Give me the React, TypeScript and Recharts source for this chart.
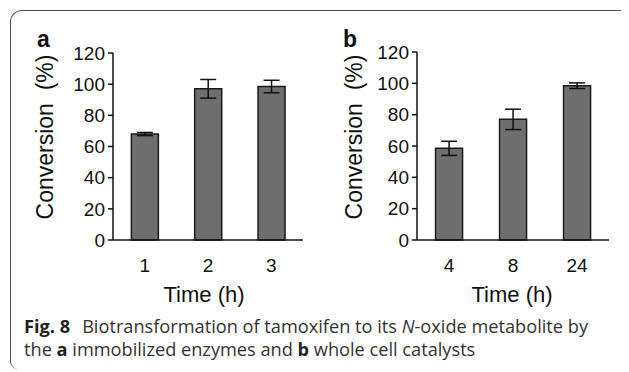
import React from 'react';
import { BarChart, Bar, XAxis, YAxis, ErrorBar } from 'recharts';

// panel a: immobilized enzymes
const timesA = ['1', '2', '3'];
const conversionA = [68, 97, 98.5];
const errorA = [1, 6, 4];

// panel b: whole cell catalysts
const timesB = ['4', '8', '24'];
const conversionB = [58.5, 77, 98.5];
const errorB = [4.5, 6.5, 1.8];

const yTicks = [0, 20, 40, 60, 80, 100, 120];
const edgeTicks = [0, 1, 2, 3];

const axisFont = '"Liberation Sans", Arial, sans-serif';
const captionFont = '"Open Sans", "Noto Sans", sans-serif';

interface PanelProps {
  times: string[];
  values: number[];
  errors: number[];
  width: number;
  height: number;
  margin: { top: number; right: number; left: number; bottom: number };
  yWidth: number;
}

const Panel: React.FC<PanelProps> = ({ times, values, errors, width, height, margin, yWidth }) => {
  const data = times.map((t, i) => ({ time: t, value: values[i], err: errors[i] }));
  const tickStyle = { fontSize: 19, fill: '#111', fontFamily: axisFont };

  return (
    <BarChart width={width} height={height} data={data} margin={margin} barCategoryGap="29%">
      {/* boundary ticks between categories, drawn on a hidden numeric axis */}
      <XAxis
        xAxisId="axis1"
        type="number"
        domain={[0, 3]}
        ticks={edgeTicks}
        tick={false}
        height={1}
        tickSize={6}
        stroke="#111"
        strokeWidth={1.5}
      />
      <XAxis
        xAxisId="axis2"
        dataKey="time"
        height={59}
        axisLine={false}
        tickLine={false}
        tickMargin={12}
        tick={tickStyle}
      />
      <YAxis
        domain={[0, 120]}
        ticks={yTicks}
        width={yWidth}
        tickSize={5}
        tickMargin={3}
        stroke="#111"
        strokeWidth={1.5}
        tick={tickStyle}
        interval={0}
      />
      <Bar
        xAxisId="axis2"
        dataKey="value"
        fill="#6e6e6e"
        stroke="#1a1a1a"
        strokeWidth={1.5}
        isAnimationActive={false}
      >
        <ErrorBar dataKey="err" width={8} stroke="#111" strokeWidth={1.5} />
      </Bar>
    </BarChart>
  );
};

const yTitle = (left: number): React.CSSProperties => ({
  position: 'absolute',
  left,
  top: 137,
  transform: 'translate(-50%, -50%) rotate(-90deg)',
  fontFamily: axisFont,
  fontSize: 23,
  color: '#111',
  whiteSpace: 'pre',
});

const xTitle = (center: number): React.CSSProperties => ({
  position: 'absolute',
  left: center,
  top: 295,
  transform: 'translate(-50%, -50%)',
  fontFamily: axisFont,
  fontSize: 22,
  color: '#111',
  whiteSpace: 'pre',
});

const letter = (left: number): React.CSSProperties => ({
  position: 'absolute',
  left,
  top: 26,
  fontFamily: axisFont,
  fontWeight: 'bold',
  fontSize: 23,
  color: '#111',
});

export default function App() {
  return (
    <div
      style={{
        position: 'relative',
        margin: '-8px 0 0 -8px',
        width: 629,
        height: 372,
        overflow: 'hidden',
        background: '#fff',
      }}
    >
      <div
        style={{
          position: 'absolute',
          left: 10,
          top: 10,
          width: 640,
          height: 358,
          borderTop: '1.5px solid #555',
          borderLeft: '1.5px solid #555',
          borderTopLeftRadius: 12,
          borderBottomLeftRadius: 8,
        }}
      />
      <div style={{ position: 'absolute', left: 0, top: 0 }}>
        <Panel
          times={timesA}
          values={conversionA}
          errors={errorA}
          width={320}
          height={300}
          margin={{ top: 53, right: 17, left: 0, bottom: 0 }}
          yWidth={113}
        />
      </div>
      <div style={{ position: 'absolute', left: 310, top: 0 }}>
        <Panel
          times={timesB}
          values={conversionB}
          errors={errorB}
          width={319}
          height={300}
          margin={{ top: 52, right: 20, left: 0, bottom: 0 }}
          yWidth={107}
        />
      </div>
      <div style={letter(37)}>a</div>
      <div style={letter(343)}>b</div>
      <div style={yTitle(45)}>{'Conversion  (%)'}</div>
      <div style={yTitle(354)}>{'Conversion  (%)'}</div>
      <div style={xTitle(204)}>Time (h)</div>
      <div style={xTitle(512)}>Time (h)</div>
      <div
        style={{
          position: 'absolute',
          left: 24,
          top: 315,
          fontFamily: captionFont,
          fontSize: 18.2,
          lineHeight: '23px',
          color: '#333',
          whiteSpace: 'pre',
        }}
      >
        <div>
          <b style={{ color: '#222' }}>Fig. 8</b>
          <span style={{ marginLeft: 12 }}>{'Biotransformation of tamoxifen to its '}</span>
          <i>N</i>
          {'-oxide metabolite by'}
        </div>
        <div>
          {'the '}
          <b style={{ color: '#222' }}>a</b>
          {' immobilized enzymes and '}
          <b style={{ color: '#222' }}>b</b>
          {' whole cell catalysts'}
        </div>
      </div>
    </div>
  );
}
